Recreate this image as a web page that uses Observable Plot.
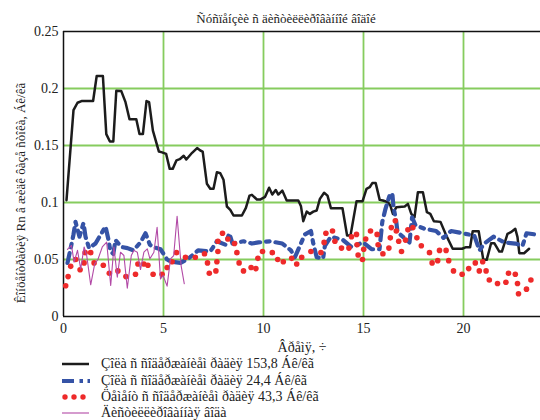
<!DOCTYPE html>
<html><head><meta charset="utf-8">
<script src="https://cdn.jsdelivr.net/npm/d3@7"></script>
<script src="https://cdn.jsdelivr.net/npm/@observablehq/plot@0.6"></script>
<style>
body{margin:0;background:#fff;font-family:"Liberation Serif","Times New Roman",serif;}
#wrap{position:relative;width:540px;height:420px;overflow:hidden;background:#fff;}
#title{position:absolute;left:0;top:11px;width:572px;text-align:center;font-size:13px;line-height:16px;color:#222;}
#chart{position:absolute;left:0;top:0;}
#legend{position:absolute;left:62px;top:356px;font-size:14px;color:#222;}
.row{display:flex;align-items:center;height:16.4px;white-space:nowrap;}
.row svg{flex:none;}
.row span{margin-left:11px;line-height:16px;}
</style>
</head><body>
<div id="wrap">
  <div id="chart"></div>
  <div id="title"></div>
  <div id="legend"></div>
</div>
<script>
// ---- texts ----
const titleText = "Ñóñïåíçèè ñ äèñòèëëèðîâàííîé âîäîé";
const xLabel = "Âðåìÿ, ÷";
const yLabel = "Êîíöåíòðàöèÿ Rn â æèäê ôàçå ñòîêà, Áê/êã";
const seriesNames = [
  "Çîëà ñ ñîäåðæàíèåì ðàäèÿ 153,8 Áê/êã",
  "Çîëà ñ ñîäåðæàíèåì ðàäèÿ 24,4 Áê/êã",
  "Öåìåíò ñ ñîäåðæàíèåì ðàäèÿ 43,3 Áê/êã",
  "Äèñòèëëèðîâàííàÿ âîäà"
];
const xTicks = [0, 5, 10, 15, 20];
const yTicks = [0, 0.05, 0.1, 0.15, 0.2, 0.25];
const xGrid = [5, 10, 15, 20];
const yGrid = [0.05, 0.1, 0.15, 0.2];

// ---- series 1: ash 153.8 (black) ----
const ash153Hours = [0.15,0.5,0.7,0.9,1.48,1.66,1.97,2.14,2.32,2.49,2.64,2.89,3.1,3.3,3.64,3.8,3.97,4.15,4.28,4.47,4.77,4.93,5.13,5.31,5.46,5.65,5.81,6.01,6.14,6.43,6.68,6.84,6.96,7.17,7.34,7.5,7.67,7.84,8.0,8.17,8.34,8.5,8.92,9.12,9.3,9.42,9.67,9.83,10.08,10.28,10.44,10.61,10.74,10.94,11.16,11.74,11.87,11.99,12.16,12.32,12.49,12.66,12.82,13.03,13.2,13.37,13.95,14.18,14.35,14.65,14.95,15.15,15.31,15.44,15.61,15.81,15.97,16.22,16.34,16.47,16.64,17.06,17.22,17.39,17.55,17.72,17.97,18.17,18.34,18.52,18.85,19.1,19.46,19.93,20.13,20.33,20.46,20.76,20.99,21.16,21.38,21.54,21.79,21.92,22.2,22.37,22.59,22.7,22.79,23.03,23.28];
const ash153Values = [0.102,0.181,0.1875,0.189,0.189,0.211,0.211,0.160,0.1535,0.1535,0.198,0.1977,0.188,0.173,0.173,0.160,0.160,0.189,0.188,0.163,0.1447,0.144,0.1427,0.1295,0.1295,0.137,0.138,0.141,0.1377,0.1436,0.1477,0.1456,0.1447,0.1164,0.112,0.112,0.1266,0.1257,0.120,0.0965,0.0936,0.0886,0.0886,0.0953,0.106,0.1067,0.1026,0.1026,0.105,0.113,0.107,0.111,0.107,0.1105,0.1018,0.1018,0.097,0.0836,0.092,0.090,0.092,0.093,0.1032,0.1085,0.106,0.095,0.095,0.071,0.071,0.101,0.101,0.112,0.1134,0.117,0.117,0.1023,0.1018,0.1003,0.0974,0.090,0.0959,0.0965,0.0988,0.090,0.087,0.109,0.109,0.0915,0.090,0.0836,0.083,0.0725,0.0594,0.0594,0.0608,0.0608,0.0748,0.0748,0.0497,0.0497,0.0643,0.0643,0.057,0.057,0.0725,0.074,0.077,0.0696,0.0555,0.0555,0.0594];

// ---- series 2: ash 24.4 (blue dash-dot) ----
const ash24Hours = [0.2,0.36,0.5,0.6,0.8,1.0,1.1,1.28,1.6,1.9,2.1,2.24,2.35,2.49,2.6,2.9,3.2,3.49,3.85,4.1,4.32,4.46,4.85,5.18,5.4,5.85,6.26,6.73,7.34,7.67,8.09,8.29,8.45,9.0,9.42,9.75,10.33,10.94,11.37,11.57,11.82,12.07,12.37,12.49,12.66,12.98,13.07,13.37,13.98,14.4,14.98,15.4,15.8,15.94,16.1,16.3,16.44,16.5,16.64,16.7,17.3,17.43,17.6,18.05,18.63,19.0,19.38,19.96,20.54,20.8,21.04,21.5,22.04,22.59,22.95,23.15,23.58];
const ash24Values = [0.047,0.060,0.072,0.083,0.070,0.082,0.070,0.060,0.064,0.073,0.079,0.068,0.057,0.055,0.067,0.061,0.060,0.058,0.065,0.073,0.063,0.061,0.059,0.050,0.048,0.047,0.051,0.058,0.057,0.066,0.063,0.073,0.064,0.066,0.064,0.065,0.066,0.064,0.058,0.052,0.062,0.072,0.075,0.064,0.052,0.051,0.062,0.070,0.067,0.061,0.065,0.059,0.059,0.083,0.0945,0.106,0.108,0.096,0.083,0.074,0.065,0.087,0.080,0.077,0.075,0.069,0.075,0.073,0.071,0.058,0.064,0.070,0.065,0.064,0.062,0.073,0.072];

// ---- series 3: cement 43.3 (red dots) ----
const cementHours = [0.11,0.23,0.36,0.61,0.83,1.03,1.08,1.36,1.53,1.99,2.29,2.72,3.12,3.6,3.72,4.02,4.22,4.48,4.93,5.18,5.43,5.65,6.1,6.59,7.05,7.2,7.29,7.62,7.67,7.72,7.72,7.95,8.22,8.55,8.67,8.78,9.0,9.38,9.62,9.72,9.95,10.44,10.71,10.99,11.41,11.66,11.91,12.37,12.87,13.03,13.12,13.45,13.57,13.9,14.27,14.4,14.65,14.68,14.73,14.95,15.01,15.11,15.35,15.68,15.73,15.97,16.27,16.34,16.39,16.59,16.64,16.76,16.9,17.1,17.22,17.47,17.67,17.89,18.3,18.43,18.71,18.8,19.13,19.26,19.5,19.93,20.26,20.59,20.79,20.96,21.13,21.29,21.7,22.12,22.25,22.59,22.7,22.75,23.15,23.37];
const cementValues = [0.027,0.035,0.044,0.050,0.041,0.047,0.056,0.056,0.047,0.045,0.038,0.040,0.035,0.037,0.046,0.046,0.045,0.037,0.037,0.043,0.048,0.056,0.052,0.052,0.055,0.047,0.038,0.040,0.048,0.057,0.066,0.073,0.068,0.064,0.056,0.047,0.040,0.043,0.042,0.051,0.057,0.056,0.050,0.048,0.051,0.046,0.052,0.057,0.056,0.065,0.073,0.075,0.066,0.060,0.060,0.070,0.072,0.063,0.054,0.050,0.059,0.068,0.075,0.072,0.063,0.055,0.060,0.069,0.078,0.084,0.075,0.066,0.057,0.067,0.076,0.078,0.069,0.062,0.056,0.047,0.049,0.058,0.058,0.049,0.040,0.037,0.042,0.047,0.040,0.048,0.040,0.032,0.029,0.030,0.038,0.037,0.029,0.020,0.024,0.032];

// ---- series 4: distilled water (magenta thin line) ----
const waterHours = [0.2,0.4,0.53,0.7,0.86,1.03,1.16,1.36,1.56,1.72,1.94,2.16,2.36,2.52,2.69,2.85,3.02,3.19,3.39,3.52,3.69,3.85,4.02,4.19,4.32,4.52,4.68,4.85,4.98,5.18,5.35,5.51,5.68,5.88,6.04];
const waterValues = [0.0588,0.0623,0.0477,0.058,0.0418,0.061,0.0535,0.0278,0.0462,0.050,0.061,0.0652,0.0272,0.061,0.0345,0.0564,0.0535,0.0248,0.0535,0.058,0.0564,0.0412,0.0564,0.0594,0.0506,0.0564,0.0783,0.033,0.036,0.0266,0.0506,0.0535,0.088,0.0447,0.0287];

const colors = {black:"#1c1c1c", blue:"#3553a6", red:"#ee2a2a", magenta:"#b24aa6", grid:"#86cc5e"};
const blueDash = "10,6,3.5,6";

const toRows = (xs, ys) => xs.map((h, i) => ({h, v: ys[i]}));
const ash153 = toRows(ash153Hours, ash153Values);
const ash24 = toRows(ash24Hours, ash24Values);
const cement = toRows(cementHours, cementValues);
const water = toRows(waterHours, waterValues);

const chart = Plot.plot({
  width: 540, height: 358,
  marginLeft: 63, marginRight: 0, marginTop: 31, marginBottom: 42,
  style: {fontFamily: '"Liberation Serif","Times New Roman",serif', fontSize: "14px", background: "transparent", color: "#222", overflow: "visible"},
  x: {domain: [0, 23.85]},
  y: {domain: [0, 0.25]},
  marks: [
    Plot.gridX(xGrid, {stroke: colors.grid, strokeOpacity: 1, strokeWidth: 1.8}),
    Plot.gridY(yGrid, {stroke: colors.grid, strokeOpacity: 1, strokeWidth: 1.8}),
    Plot.ruleX([0], {stroke: "#111", strokeWidth: 1.5}),
    Plot.ruleY([0, 0.25], {stroke: "#111", strokeWidth: 1.5}),
    Plot.axisX(xTicks, {tickSize: 0, tickPadding: 7, label: xLabel, labelAnchor: "center", labelArrow: "none", labelOffset: 35}),
    Plot.axisY(yTicks, {tickSize: 0, tickPadding: 5, tickFormat: d => String(+d.toFixed(2)), label: null}),
    Plot.line(ash153, {x: "h", y: "v", stroke: colors.black, strokeWidth: 2.5, strokeLinejoin: "round"}),
    Plot.line(ash24, {x: "h", y: "v", stroke: colors.blue, strokeWidth: 4.2, strokeDasharray: blueDash, strokeLinejoin: "round"}),
    Plot.dot(cement, {x: "h", y: "v", r: 2.8, fill: colors.red}),
    Plot.line(water, {x: "h", y: "v", stroke: colors.magenta, strokeWidth: 1.1})
  ]
});
document.getElementById("chart").appendChild(chart);
d3.select(chart).append("text")
  .attr("transform", "translate(22,193) rotate(-90)")
  .attr("text-anchor", "middle")
  .attr("dominant-baseline", "middle")
  .attr("fill", "#222")
  .style("font-size", "13px")
  .text(yLabel);

document.getElementById("title").textContent = titleText;

// legend
const legend = d3.select("#legend");
const styles = ["black", "blue", "red", "magenta"];
styles.forEach((s, i) => {
  const row = legend.append("div").attr("class", "row");
  const sw = row.append("svg").attr("width", 28).attr("height", 10);
  if (s === "black") sw.append("line").attr("x1",0).attr("x2",27).attr("y1",5).attr("y2",5).attr("stroke",colors.black).attr("stroke-width",2.5);
  if (s === "blue") sw.append("line").attr("x1",0).attr("x2",28).attr("y1",5).attr("y2",5).attr("stroke",colors.blue).attr("stroke-width",4.2).attr("stroke-dasharray","12,5.5,3.5,4.5");
  if (s === "red") [3, 12, 21].forEach(cx => sw.append("circle").attr("cx",cx).attr("cy",5).attr("r",2.7).attr("fill",colors.red));
  if (s === "magenta") sw.append("line").attr("x1",0).attr("x2",27).attr("y1",5).attr("y2",5).attr("stroke",colors.magenta).attr("stroke-width",1.1);
  row.append("span").text(seriesNames[i]);
});
</script>
</body></html>
